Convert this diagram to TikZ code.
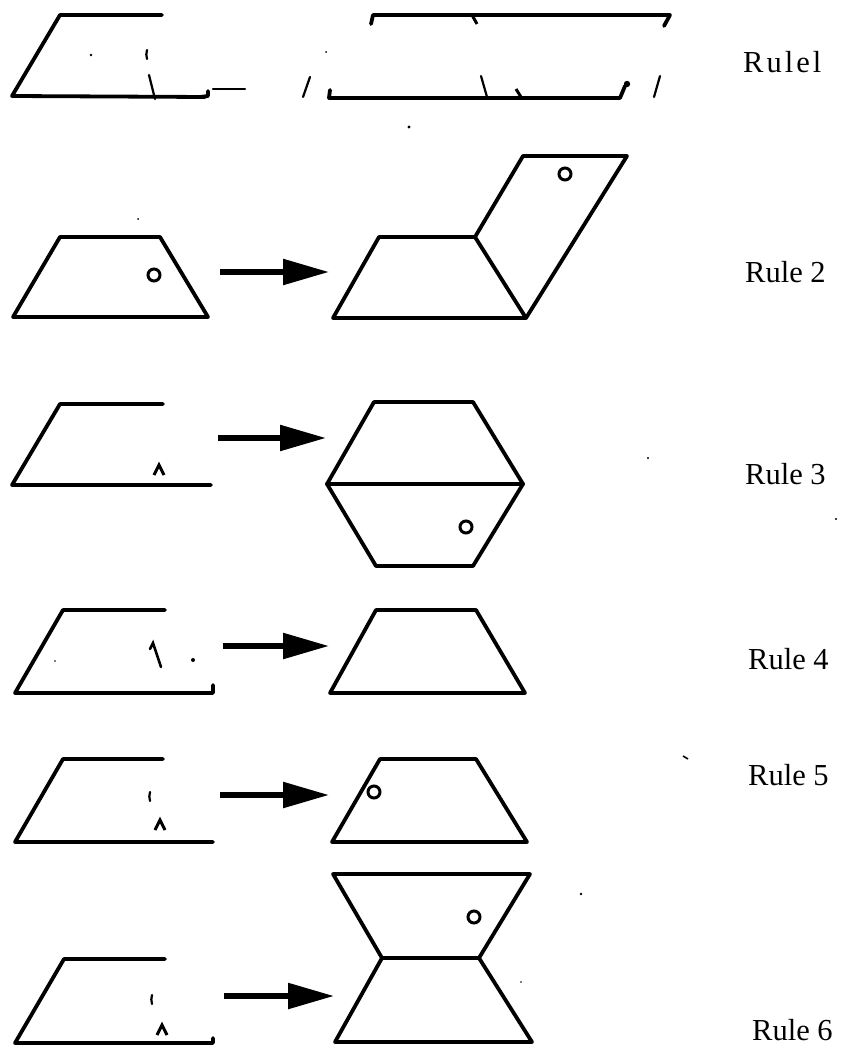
\documentclass[tikz,border=0pt]{standalone}
\usepackage{fontspec}
\setmainfont{Liberation Serif}
\usetikzlibrary{arrows.meta}
\tikzset{
  outline/.style={line width=3.8pt, line join=round, line cap=round},
  thinmark/.style={line width=2.2pt, line cap=round},
  arr/.style={line width=5.5pt, -{Triangle[length=46pt,width=25pt]}},
  hole/.style={line width=3pt, radius=6pt},
  caret/.style={line width=3pt, line join=miter},
  speck/.style={fill=black},
  rulelabel/.style={anchor=west, inner sep=0pt, font=\fontsize{30.5}{36}\selectfont}
}
\begin{document}
\begin{tikzpicture}[x=1pt,y=-1pt]
\useasboundingbox (0,0) rectangle (841,1048);

% ---------------- Rule 1 (fragmentary) ----------------
\draw[outline] (162,15) -- (60,15) -- (12,96) -- (205,97);
\draw[line width=2pt] (110,14.5) -- (162,14.5);
\draw[outline] (200,97) -- (208,96) -- (208,91);
\draw[thinmark] (213,89) -- (245,89);
\draw[thinmark] (147,50) to[bend right=15] (147,59);
\draw[thinmark] (149,75) -- (155,99);
\fill[speck] (91,55) circle (1.3);
\draw[thinmark] (310,77) -- (303,97);
% right fragment
\draw[outline] (371,24) -- (373,15) -- (670,15) -- (664,26);
\draw[line width=3pt] (472,15) -- (477,24);
\draw[outline] (330,90) -- (329,98) -- (620,98) -- (625,86);
\fill[speck] (627,84) circle (3.2);
\draw[thinmark] (481,76) -- (487,97);
\draw[line width=3pt] (516,89) -- (521,97);
\draw[thinmark] (660,76) -- (654,97);
\fill[speck] (409,127) circle (1.6);
\fill[speck] (326,52) circle (1);
\node[rulelabel] (r1) at (743,62) {\addfontfeature{LetterSpace=10}Rulel};

% ---------------- Rule 2 ----------------
\draw[outline] (60,237) -- (160,237) -- (208,317) -- (13,317) -- cycle;
\draw[hole] (154,275) circle;
\fill[speck] (138,219) circle (1);
\coordinate (a2s) at (220,272);
\coordinate (a2e) at (329,272);
\draw[arr] (a2s) -- (a2e);
\draw[outline] (379,237) -- (475,237) -- (526,318) -- (333,318) -- cycle;
\draw[outline] (475,237) -- (523,156) -- (627,156) -- (526,318);
\draw[hole] (565,174) circle;
\node[rulelabel] (r2) at (745,272) {Rule 2};

% ---------------- Rule 3 ----------------
\draw[outline] (163,404) -- (60,404) -- (12,485) -- (211,485);
\draw[caret] (154,475) -- (159,465) -- (164,475);
\coordinate (a3s) at (218,438);
\coordinate (a3e) at (326,438);
\draw[arr] (a3s) -- (a3e);
\draw[outline] (374,402) -- (473,402) -- (523,484) -- (473,566) -- (376,566) -- (327,484) -- cycle;
\draw[outline] (327,484) -- (523,484);
\draw[hole] (466,527) circle;
\fill[speck] (648,458) circle (1.2);
\fill[speck] (836,519) circle (1.2);
\node[rulelabel] (r3) at (745,474) {Rule 3};

% ---------------- Rule 4 ----------------
\draw[outline] (165,610) -- (63,610) -- (15,693) -- (213,693) -- (213,685);
\draw[line width=2.6pt, line cap=round] (150,649) -- (153,643) -- (161,667);
\fill[speck] (193,660) circle (2);
\fill[speck] (55,661) circle (0.9);
\coordinate (a4s) at (223,646);
\coordinate (a4e) at (329,646);
\draw[arr] (a4s) -- (a4e);
\draw[outline] (376,610) -- (476,610) -- (525,693) -- (330,693) -- cycle;
\node[rulelabel] (r4) at (748,659) {Rule 4};

% ---------------- Rule 5 ----------------
\draw[outline] (163,759) -- (63,759) -- (15,842) -- (213,842);
\draw[thinmark] (150,792) to[bend right=15] (150,801);
\draw[caret] (155,830) -- (160,820) -- (165,830);
\coordinate (a5s) at (220,795);
\coordinate (a5e) at (329,795);
\draw[arr] (a5s) -- (a5e);
\draw[outline] (380,759) -- (476,759) -- (527,842) -- (332,842) -- cycle;
\draw[hole] (374,792) circle;
\draw[line width=1.6pt] (683,756) -- (688,759);
\node[rulelabel] (r5) at (748,775) {Rule 5};

% ---------------- Rule 6 ----------------
\draw[outline] (165,959) -- (64,959) -- (15,1043) -- (213,1043) -- (213,1038);
\draw[thinmark] (152,995) to[bend right=15] (152,1004);
\draw[caret] (157,1035) -- (162,1025) -- (167,1035);
\coordinate (a6s) at (224,996);
\coordinate (a6e) at (334,996);
\draw[arr] (a6s) -- (a6e);
\draw[outline] (333,874) -- (530,874) -- (479,958) -- (382,958) -- cycle;
\draw[outline] (382,958) -- (335,1042) -- (532,1042) -- (479,958);
\draw[hole] (474,917) circle;
\fill[speck] (581,894) circle (1.3);
\fill[speck] (521,982) circle (0.9);
\node[rulelabel] (r6) at (752,1030) {Rule 6};

\end{tikzpicture}
\end{document}
